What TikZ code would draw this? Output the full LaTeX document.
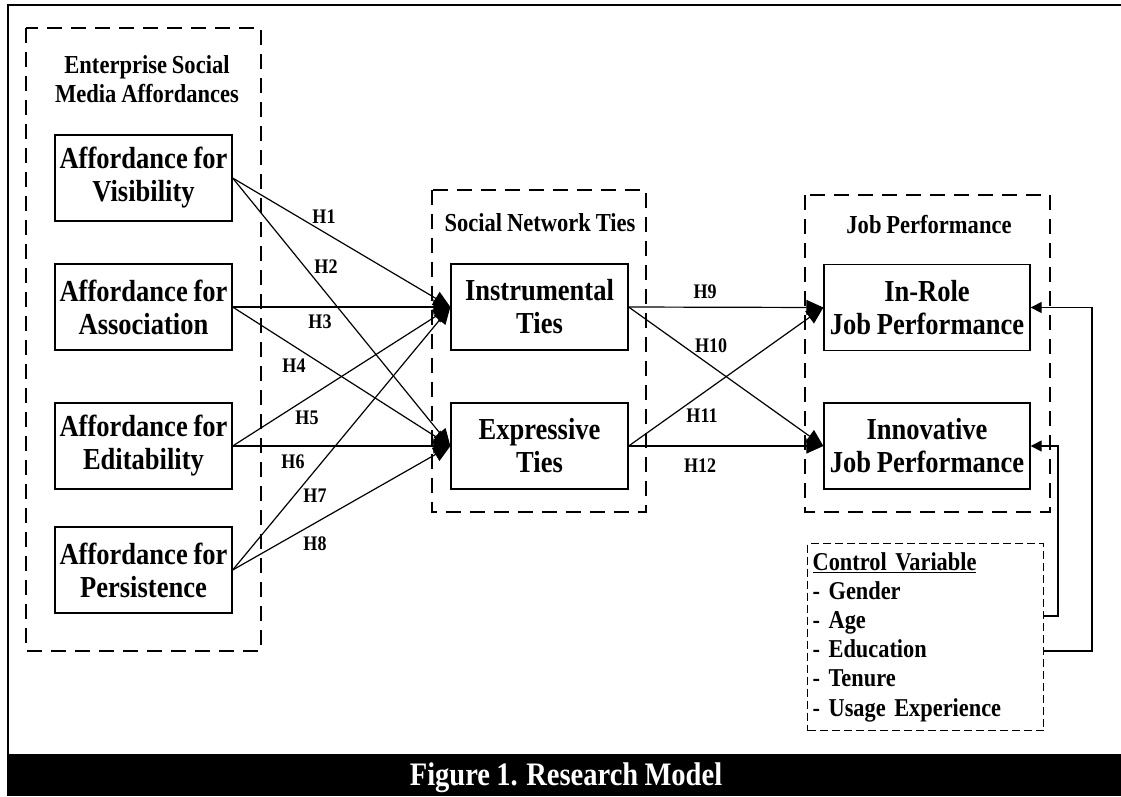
\documentclass[tikz,border=0pt]{standalone}
\usepackage{fontspec}
\setmainfont{Liberation Serif}[FakeStretch=0.87,WordSpace=0.87]
\usetikzlibrary{arrows.meta}

\begin{document}
\begin{tikzpicture}[x=1pt,y=-1pt,>={Triangle[length=17pt,width=15pt]},every node/.style={font=\bfseries}]
  \tikzset{bx/.style={draw,line width=1.3pt,minimum width=177pt,minimum height=86pt,inner sep=0pt,align=center,font=\fontsize{30.5}{33}\selectfont\bfseries},
    grp/.style={line width=1.3pt,dash pattern=on 15pt off 9pt},
    ttl/.style={align=center,inner sep=0pt,font=\fontsize{25.9}{29}\selectfont\bfseries},
    lbl/.style={inner sep=0pt,font=\fontsize{20.7}{22}\selectfont\bfseries},
    hy/.style={->,line width=1.2pt},
    fb/.style={-{Triangle[length=11pt,width=11pt]},line width=1.2pt}}
  \useasboundingbox (0,0) rectangle (1121,796);
  % frame and caption
  \draw[line width=2.5pt] (1121,5) -- (8,5) -- (8,796);
  \fill (7,754) rectangle (1121,796);
  \node[anchor=base,text=white,font=\fontsize{32.8}{34}\selectfont\bfseries] (cap) at (566,785) {Figure 1. Research Model};
  % groups
  \draw[grp] (26,28) rectangle (261,651);
  \draw[grp] (432,190) rectangle (646,512);
  \draw[grp] (805,195) rectangle (1050,512);
  \node[ttl] (g1) at (147,79) {Enterprise Social\\Media Affordances};
  \node[ttl,anchor=base] (g2) at (540,231) {Social Network Ties};
  \node[ttl,anchor=base] (g3) at (929,233) {Job Performance};
  % constructs
  \node[bx] (v) at (143.5,178) {Affordance for\\Visibility};
  \node[bx] (a) at (143.5,307) {Affordance for\\Association};
  \node[bx] (d) at (143.5,446) {Affordance for\\Editability};
  \node[bx] (p) at (143.5,570) {Affordance for\\Persistence};
  \node[bx] (i) at (539.5,307) {Instrumental\\Ties};
  \node[bx] (e) at (539.5,446) {Expressive\\Ties};
  \node[bx,minimum width=206pt] (r) at (927,307.5) {In-Role\\Job Performance};
  \node[bx,minimum width=206pt] (n) at (927,446) {Innovative\\Job Performance};
  % controls
  \node[draw,line width=1.2pt,dash pattern=on 8pt off 4pt,anchor=north west,minimum width=236pt,minimum height=187pt,
    text width=226pt,inner xsep=5pt,inner ysep=0pt,align=left,font=\fontsize{25.7}{29.2}\selectfont\bfseries] (cv) at (807,543)
    {\underline{Control Variable}\\- Gender\\- Age\\- Education\\- Tenure\\- Usage Experience};
  % hypotheses
  \draw[hy] (v.east) -- (i.west);
  \draw[hy] (v.east) -- (e.west);
  \draw[hy] (a.east) -- (i.west);
  \draw[hy] (a.east) -- (e.west);
  \draw[hy] (d.east) -- (i.west);
  \draw[hy] (d.east) -- (e.west);
  \draw[hy] (p.east) -- (i.west);
  \draw[hy] (p.east) -- (e.west);
  \draw[hy] (i.east) -- (r.west);
  \draw[hy] (i.east) -- (n.west);
  \draw[hy] (e.east) -- (r.west);
  \draw[hy] (e.east) -- (n.west);
  \node[lbl] (h1) at (324,217) {H1};
  \node[lbl] (h2) at (326,267) {H2};
  \node[lbl] (h3) at (320,322) {H3};
  \node[lbl] (h4) at (294,366) {H4};
  \node[lbl] (h5) at (307,418) {H5};
  \node[lbl] (h6) at (293,462) {H6};
  \node[lbl] (h7) at (315,496) {H7};
  \node[lbl] (h8) at (315,544) {H8};
  \node[lbl] (h9) at (705,292) {H9};
  \node[lbl] (h10) at (711,346) {H10};
  \node[lbl] (h11) at (702,416) {H11};
  \node[lbl] (h12) at (700,466) {H12};
  % control paths
  \draw[fb] (cv.east |- 0,616) -- (1058,616) |- (n.east);
  \draw[fb] (cv.east |- 0,651) -- (1092,651) |- (r.east);
\end{tikzpicture}
\end{document}
